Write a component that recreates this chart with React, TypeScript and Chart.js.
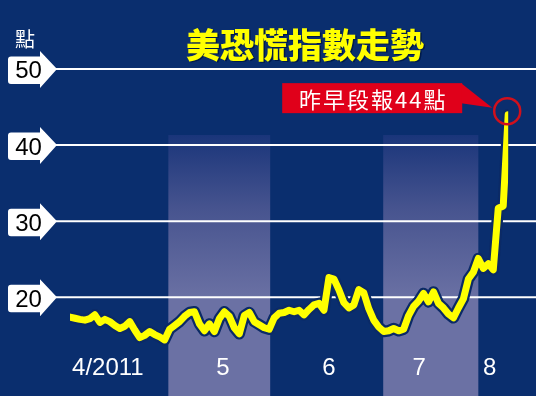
import React, { useEffect, useRef } from "react";
import { Chart, registerables } from "chart.js";

Chart.register(...registerables);

// VIX daily closes, 1 Apr 2011 – 8 Aug 2011 (one entry per trading day)
const vixValues = [
  17.4, 17.25, 17.1, 17.0, 17.2, 17.7, 16.7, 17.1, 16.8, 16.3,
  15.9, 16.2, 16.8, 15.7, 14.7, 15.0, 15.5, 15.1, 14.8, 14.4,
  15.8, 16.3, 16.8, 17.5, 18.0, 18.1, 16.5, 15.6, 16.5, 15.5,
  17.2, 18.1, 17.5, 16.0, 15.2, 17.6, 18.0, 16.8, 16.4, 16.0,
  15.8, 17.3, 17.9, 18.0, 18.3, 18.1, 18.3, 17.7, 18.4, 19.0,
  19.2, 18.3, 22.6, 22.4, 21.0, 19.3, 18.6, 19.0, 21.0, 20.6,
  18.5, 17.0, 16.1, 15.5, 15.6, 15.9, 15.6, 15.8, 17.6, 18.8,
  19.5, 20.5, 19.4, 20.7, 19.2, 18.6, 17.8, 17.3, 18.6, 19.8,
  22.4, 23.3, 25.1, 23.8, 24.4, 23.6, 31.7, 32.0, 44,
];

// Month captions and where they sit along the trading-day axis
const monthNames = ["4/2011", "5", "6", "7", "8"];
const monthLabelAt = [7.6, 30.7, 52, 70.1, 84.3];

// Shaded months (May, July) as trading-day ranges
const shadedMonths: [number, number][] = [
  [19.75, 40.2],
  [62.9, 82.0],
];

const yTicks = [20, 30, 40, 50];

const titleText = "美恐慌指數走勢";
const unitText = "點";
const calloutPrefix = "昨早段報";

const NAVY = "#0a2e6e";
const YELLOW = "#ffff00";
const RED = "#e0001a";
const CJK = '"Noto Sans CJK TC", "Noto Sans CJK SC", sans-serif';
const LATIN = '"Liberation Sans", Arial, sans-serif';

export default function App() {
  const canvasRef = useRef<HTMLCanvasElement>(null);

  useEffect(() => {
    if (!canvasRef.current) return;
    const points = vixValues.map((v, i) => ({ x: i, y: v }));

    const decor = {
      id: "decor",
      beforeDraw(chart: any) {
        const { ctx, width, height } = chart;
        ctx.save();
        ctx.fillStyle = NAVY;
        ctx.fillRect(0, 0, width, height);
        ctx.restore();
      },
      beforeDatasetsDraw(chart: any) {
        const { ctx, width, height } = chart;
        const xs = chart.scales.x;
        const ys = chart.scales.y;
        ctx.save();

        // shaded month bands, fading in from the top
        const bandTop = 135;
        const grad = ctx.createLinearGradient(0, bandTop, 0, 300);
        grad.addColorStop(0, "#1a357a");
        grad.addColorStop(0.45, "#47548f");
        grad.addColorStop(1, "#6b71a4");
        ctx.fillStyle = grad;
        for (const [a, b] of shadedMonths) {
          const x0 = xs.getPixelForValue(a);
          const x1 = xs.getPixelForValue(b);
          ctx.fillRect(x0, bandTop, x1 - x0, height - bandTop);
        }

        // horizontal grid lines and arrow-shaped tick labels
        for (const t of yTicks) {
          const py = ys.getPixelForValue(t);
          ctx.strokeStyle = "#ffffff";
          ctx.lineWidth = 2;
          ctx.beginPath();
          ctx.moveTo(56, py);
          ctx.lineTo(width, py);
          ctx.stroke();

          ctx.fillStyle = "#ffffff";
          ctx.beginPath();
          const left = 8;
          const baseX = 40;
          const tipX = 57;
          const top = py - 12.5;
          const bottom = py + 15;
          const r = 3;
          ctx.moveTo(left + r, top);
          ctx.lineTo(baseX, top);
          ctx.lineTo(baseX, py - 18);
          ctx.lineTo(tipX, py);
          ctx.lineTo(baseX, py + 19);
          ctx.lineTo(baseX, bottom);
          ctx.lineTo(left + r, bottom);
          ctx.quadraticCurveTo(left, bottom, left, bottom - r);
          ctx.lineTo(left, top + r);
          ctx.quadraticCurveTo(left, top, left + r, top);
          ctx.closePath();
          ctx.fill();

          ctx.fillStyle = "#000000";
          ctx.font = `24px ${LATIN}`;
          ctx.textAlign = "center";
          ctx.textBaseline = "alphabetic";
          ctx.fillText(String(t), 28.5, py + 9.5);
        }
        ctx.restore();
      },
      afterDatasetsDraw(chart: any) {
        const { ctx } = chart;
        const xs = chart.scales.x;
        ctx.save();

        // title
        ctx.font = `900 34px ${CJK}`;
        ctx.textAlign = "center";
        ctx.textBaseline = "middle";
        ctx.fillStyle = "#001a4a";
        ctx.fillText(titleText, 306.5, 46.5);
        ctx.fillStyle = YELLOW;
        ctx.fillText(titleText, 305, 45);

        // unit
        ctx.font = `20px ${CJK}`;
        ctx.fillStyle = "#ffffff";
        ctx.fillText(unitText, 25, 39);

        // month captions
        ctx.font = `24px ${LATIN}`;
        ctx.textBaseline = "alphabetic";
        monthNames.forEach((m, i) => {
          ctx.fillText(m, xs.getPixelForValue(monthLabelAt[i]), 375);
        });

        // callout on the latest reading
        const meta = chart.getDatasetMeta(0);
        const last = meta.data[meta.data.length - 1];
        const lastValue = vixValues[vixValues.length - 1];
        const px = last.x;
        const py = last.y;

        ctx.strokeStyle = "#d0101c";
        ctx.lineWidth = 2.5;
        ctx.beginPath();
        ctx.arc(px - 1, py - 3.5, 13, 0, Math.PI * 2);
        ctx.stroke();

        const boxW = 180;
        const boxH = 30;
        const boxR = px - 46;
        const boxL = boxR - boxW;
        const boxT = py - 31.5;
        ctx.fillStyle = RED;
        ctx.fillRect(boxL, boxT, boxW, boxH);
        ctx.beginPath();
        ctx.moveTo(boxR - 1, boxT);
        ctx.lineTo(px - 16, py - 7);
        ctx.lineTo(boxR - 1, boxT + 20);
        ctx.closePath();
        ctx.fill();

        ctx.fillStyle = "#ffffff";
        ctx.font = `22px ${CJK}`;
        ctx.textAlign = "center";
        ctx.textBaseline = "middle";
        (ctx as any).letterSpacing = "2px";
        ctx.fillText(`${calloutPrefix}${lastValue}${unitText}`, boxL + boxW / 2 + 1, boxT + boxH / 2 + 1);
        (ctx as any).letterSpacing = "0px";

        ctx.restore();
      },
    };

    const lineStyle = {
      pointRadius: 0,
      tension: 0,
      borderJoinStyle: "round" as const,
      borderCapStyle: "round" as const,
      fill: false,
    };

    const chart = new Chart(canvasRef.current, {
      type: "line",
      data: {
        datasets: [
          { ...lineStyle, data: points, borderColor: YELLOW, borderWidth: 7 },
          { ...lineStyle, data: points, borderColor: "#0b2a66", borderWidth: 11.5 },
        ],
      },
      options: {
        animation: false,
        responsive: true,
        maintainAspectRatio: false,
        events: [],
        layout: { padding: { left: 70, right: 27.8, top: 8.1, bottom: 22.6 } },
        scales: {
          x: { type: "linear", min: 0, max: 88, display: false },
          y: { min: 10, max: 58, display: false },
        },
        plugins: {
          legend: { display: false },
          tooltip: { enabled: false },
        },
      },
      plugins: [decor],
    });

    return () => chart.destroy();
  }, []);

  return (
    <div style={{ position: "absolute", left: 0, top: 0, width: 536, height: 396 }}>
      <canvas ref={canvasRef} />
    </div>
  );
}
